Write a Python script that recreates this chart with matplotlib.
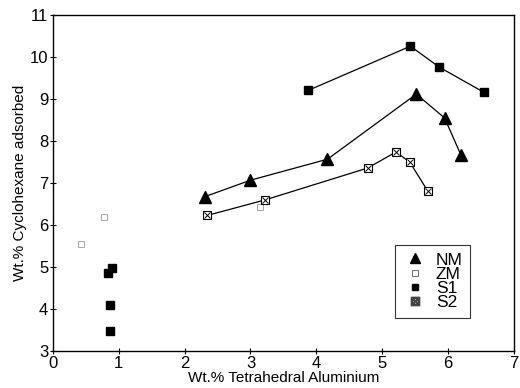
import matplotlib.pyplot as plt
from matplotlib.lines import Line2D
import numpy as np

plt.rcParams['font.family'] = ['Liberation Sans', 'DejaVu Sans']

nm_x = [2.31, 3.0, 4.17, 5.52, 5.95, 6.2]
nm_y = [6.68, 7.07, 7.57, 9.12, 8.55, 7.66]

zm_x = [0.42, 0.77, 3.15]
zm_y = [5.56, 6.2, 6.43]

s1_line_x = [3.88, 5.43, 5.87, 6.55]
s1_line_y = [9.21, 10.26, 9.76, 9.16]
s1_pts_x = [0.83, 0.9, 0.86, 0.86]
s1_pts_y = [4.87, 4.97, 4.1, 3.49]

s2_x = [2.34, 3.22, 4.78, 5.21, 5.42, 5.69]
s2_y = [6.23, 6.6, 7.36, 7.74, 7.5, 6.82]

fig = plt.figure(figsize=(5.2, 3.88), dpi=100)
ax = fig.add_axes([0.102, 0.095, 0.886, 0.866])

ax.plot(nm_x, nm_y, color='black', lw=0.9, marker='^', ms=8, mfc='black', mec='black')
ax.plot(zm_x, zm_y, ls='none', marker='s', ms=5, mfc='white', mec='#999999', mew=0.6)
ax.plot(s1_line_x, s1_line_y, color='black', lw=0.9, marker='s', ms=6, mfc='black', mec='black')
ax.plot(s1_pts_x, s1_pts_y, ls='none', marker='s', ms=6, mfc='black', mec='black')
ax.plot(s2_x, s2_y, color='black', lw=0.9, marker='s', ms=6, mfc='white', mec='black', mew=0.8)
ax.plot(s2_x, s2_y, ls='none', marker='x', ms=4.5, color='black', mew=0.7)

ax.set_xlim(0, 7)
ax.set_ylim(3, 11)
ax.set_xticks(np.arange(0, 8, 1))
ax.set_yticks(np.arange(3, 12, 1))
ax.tick_params(direction='inout', length=5, width=0.8, labelsize=12, pad=1)
for s in ax.spines.values():
    s.set_linewidth(1.0)

ax.set_xlabel('Wt.% Tetrahedral Aluminium', fontsize=11, labelpad=0)
ax.set_ylabel('Wt.% Cyclohexane adsorbed', fontsize=11, labelpad=2)

handles = [
    Line2D([], [], ls='none', marker='^', ms=6.5, color='black'),
    Line2D([], [], ls='none', marker='s', ms=4.5, mfc='white', mec='#555555', mew=0.6),
    Line2D([], [], ls='none', marker='s', ms=4.5, color='black'),
    Line2D([], [], ls='none', marker='$\\boxtimes$', ms=6, color='#444444'),
]
leg = ax.legend(handles, ['NM', 'ZM', 'S1', 'S2'], loc='lower left',
                bbox_to_anchor=(0.742, 0.098), fontsize=12.5,
                frameon=True, fancybox=False, edgecolor='black', handlelength=1.4,
                handletextpad=0.5, labelspacing=-0.05, borderpad=0.45, borderaxespad=0)
leg.get_frame().set_linewidth(0.8)

fig.savefig('out.png', dpi=100)
